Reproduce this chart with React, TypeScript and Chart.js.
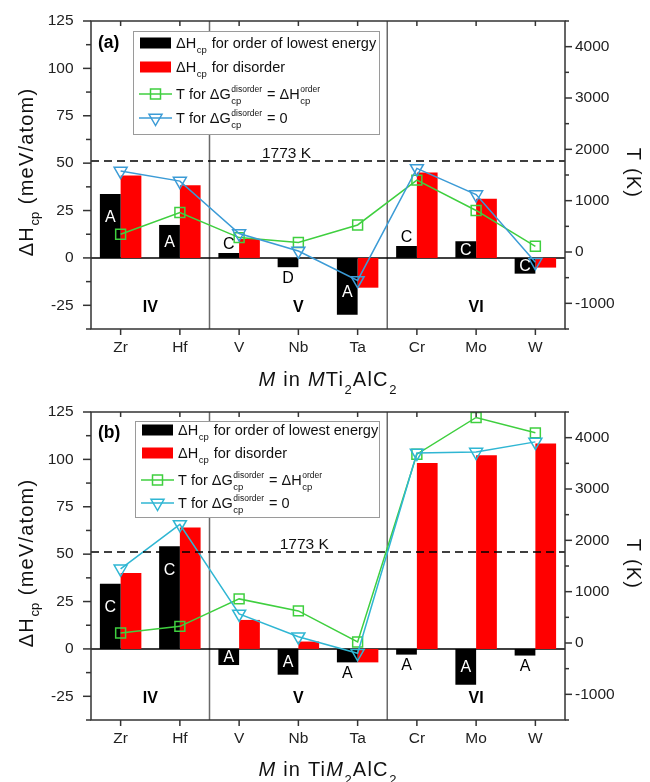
import React, { useEffect, useRef } from 'react';
import { Chart, registerables } from 'chart.js';

Chart.register(...registerables);

const FF = '"Liberation Sans", Arial, Helvetica, sans-serif';
const RED = '#ff0000';
const GREEN = '#3fcf3f';

// ---------- data ----------
const categories = ['Zr', 'Hf', 'V', 'Nb', 'Ta', 'Cr', 'Mo', 'W'];

// panel (a): M in MTi2AlC2
const orderA = [33.7, 17.4, 2.6, -4.9, -30, 6.3, 8.8, -8.3];
const disorderA = [43.5, 38.4, 10, 0, -15.7, 45.1, 31.2, -5.1];
const tEqA = [346, 770, 281, 184, 527, 1400, 809, 111];
const tZeroA = [1576, 1381, 359, 20, -553, 1629, 1120, -200];
const lettersA = ['A', 'A', 'C', 'D', 'A', 'C', 'C', 'C'];
const placeA = ['in', 'in', 'above', 'below', 'in', 'above', 'in', 'in'];

// panel (b): M in TiM2AlC2
const orderB = [34.4, 54.2, -8.5, -13.6, -7.1, -3, -18.9, -3.5];
const disorderB = [40, 64, 15.3, 3.9, -7.1, 98.1, 102.2, 108.4];
const tEqB = [195, 324, 859, 625, 20, 3678, 4394, 4094];
const tZeroB = [1445, 2310, 566, 123, -200, 3703, 3720, 3918];
const lettersB = ['C', 'C', 'A', 'A', 'A', 'A', 'A', 'A'];
const placeB = ['in', 'in', 'in', 'in', 'below', 'below', 'in', 'below'];

// axes
const yMin = -37.5;
const yMax = 125;
const yTicks = [-25, 0, 25, 50, 75, 100, 125];
const yMinor = [-37.5, -12.5, 12.5, 37.5, 62.5, 87.5, 112.5];
const tMin = -1500;
const tMax = 4500;
const tTicks = [-1000, 0, 1000, 2000, 3000, 4000];
const tMinor = [-1500, -500, 500, 1500, 2500, 3500, 4500];

const groupNames = ['IV', 'V', 'VI'];
const groupCenters = [0.5, 3, 6];
const groupValue = -26;
const separatorsAfter = [1, 4];
const meltingT = 1773;

type Part = { t: string; k?: 'sub' | 'ss'; sup?: string; it?: boolean };
interface TextCfg { size: number; sub: number; sup: number; subDy: number; supDy: number; ls: number; }

const legendRows: Part[][] = [
  [{ t: '\u0394H' }, { t: 'cp', k: 'sub' }, { t: ' for order of lowest energy' }],
  [{ t: '\u0394H' }, { t: 'cp', k: 'sub' }, { t: ' for disorder' }],
  [{ t: 'T for \u0394G' }, { t: 'cp', k: 'ss', sup: 'disorder' }, { t: ' = \u0394H' }, { t: 'cp', k: 'ss', sup: 'order' }],
  [{ t: 'T for \u0394G' }, { t: 'cp', k: 'ss', sup: 'disorder' }, { t: ' = 0' }],
];
const yTitle: Part[] = [{ t: '\u0394H' }, { t: 'cp', k: 'sub' }, { t: ' (meV/atom)' }];
const y2Title: Part[] = [{ t: 'T (K)' }];

const panelA = {
  order: orderA, disorder: disorderA, tEq: tEqA, tZero: tZeroA,
  letters: lettersA, place: placeA, tag: '(a)', blue: '#3b9bd6',
  xTitle: [{ t: 'M', it: true }, { t: ' in ' }, { t: 'M', it: true }, { t: 'Ti' }, { t: '2', k: 'sub' }, { t: 'AlC' }, { t: '2', k: 'sub' }] as Part[],
  meltPos: 2.8,
  canvasTop: 0, canvasH: 398, padTop: 21, xHeight: 69, titleBase: 386,
  legX: 133, legY: 31, legW: 246, legH: 103, legRows: [43, 67, 94, 118], tagY: 43,
};
const panelB = {
  order: orderB, disorder: disorderB, tEq: tEqB, tZero: tZeroB,
  letters: lettersB, place: placeB, tag: '(b)', blue: '#2fb6d3',
  xTitle: [{ t: 'M', it: true }, { t: ' in Ti' }, { t: 'M', it: true }, { t: '2', k: 'sub' }, { t: 'AlC' }, { t: '2', k: 'sub' }] as Part[],
  meltPos: 3.1,
  canvasTop: 398, canvasH: 384, padTop: 14, xHeight: 62, titleBase: 378,
  legX: 135, legY: 23, legW: 244, legH: 96, legRows: [32, 55, 82, 105], tagY: 35,
};

// ---------- drawing helpers ----------
function runParts(ctx: any, parts: Part[], x: number, y: number, c: TextCfg, draw: boolean) {
  let cx = x;
  for (const p of parts) {
    if (!p.k) {
      ctx.font = `${p.it ? 'italic ' : ''}${c.size}px ${FF}`;
      ctx.letterSpacing = c.ls + 'px';
      if (draw) ctx.fillText(p.t, cx, y);
      cx += ctx.measureText(p.t).width;
    } else {
      ctx.letterSpacing = '0px';
      ctx.font = `${c.sub}px ${FF}`;
      const w1 = ctx.measureText(p.t).width;
      if (draw) ctx.fillText(p.t, cx + 0.5, y + c.subDy);
      let w = w1;
      if (p.k === 'ss' && p.sup) {
        ctx.font = `${c.sup}px ${FF}`;
        const w2 = ctx.measureText(p.sup).width;
        if (draw) ctx.fillText(p.sup, cx + 0.5, y + c.supDy);
        w = Math.max(w1, w2);
      }
      cx += w + 1.5;
    }
  }
  ctx.letterSpacing = '0px';
  return cx - x;
}

function seg(ctx: any, x1: number, y1: number, x2: number, y2: number) {
  ctx.beginPath();
  ctx.moveTo(x1, y1);
  ctx.lineTo(x2, y2);
  ctx.stroke();
}

function drawLegend(ctx: any, p: any) {
  ctx.save();
  const x0 = p.legX, y0 = p.legY;
  ctx.fillStyle = '#fff';
  ctx.fillRect(x0, y0, p.legW, p.legH);
  ctx.strokeStyle = '#9a9a9a';
  ctx.lineWidth = 1;
  ctx.strokeRect(x0 + 0.5, y0 + 0.5, p.legW, p.legH);
  const sx = x0 + 7, sw = 31, tx = x0 + 43;
  const r = p.legRows;
  ctx.fillStyle = '#000';
  ctx.fillRect(sx, r[0] - 5.5, sw, 11);
  ctx.fillStyle = RED;
  ctx.fillRect(sx, r[1] - 5.5, sw, 11);
  const cx = sx + sw / 2;
  ctx.lineWidth = 1.5;
  ctx.strokeStyle = GREEN;
  seg(ctx, sx - 1, r[2], sx + sw + 1, r[2]);
  ctx.strokeRect(cx - 5, r[2] - 5, 10, 10);
  ctx.strokeStyle = p.blue;
  seg(ctx, sx - 1, r[3], sx + sw + 1, r[3]);
  const tr = 7.5;
  ctx.beginPath();
  ctx.moveTo(cx, r[3] + tr);
  ctx.lineTo(cx - tr * 0.866, r[3] - tr / 2);
  ctx.lineTo(cx + tr * 0.866, r[3] - tr / 2);
  ctx.closePath();
  ctx.stroke();
  ctx.fillStyle = '#111';
  ctx.textAlign = 'left';
  ctx.textBaseline = 'alphabetic';
  const cfg: TextCfg = { size: 14.5, sub: 9.5, sup: 8.5, subDy: 4.5, supDy: -7.5, ls: 0 };
  legendRows.forEach((row, i) => runParts(ctx, row, tx, r[i] + 5.2, cfg, true));
  ctx.restore();
}

function makePlugin(p: any) {
  return {
    id: 'deco',
    beforeDatasetsDraw(chart: any) {
      const { ctx, chartArea: a, scales } = chart;
      const x = scales.x, y = scales.y;
      ctx.save();
      ctx.strokeStyle = '#6a6a6a';
      ctx.lineWidth = 1.5;
      for (const i of separatorsAfter) {
        const sx = (x.getPixelForValue(i) + x.getPixelForValue(i + 1)) / 2;
        seg(ctx, sx, a.top, sx, a.bottom);
      }
      ctx.strokeStyle = '#000';
      const y0 = y.getPixelForValue(0);
      seg(ctx, a.left, y0, a.right, y0);
      ctx.restore();
    },
    afterDatasetsDraw(chart: any) {
      const { ctx, chartArea: a, scales } = chart;
      const x = scales.x, y = scales.y, y2 = scales.y2;
      ctx.save();
      // 1773 K dashed line
      const ym = y2.getPixelForValue(meltingT);
      ctx.strokeStyle = '#000';
      ctx.lineWidth = 1.5;
      ctx.setLineDash([8, 5]);
      seg(ctx, a.left, ym, a.right, ym);
      ctx.setLineDash([]);
      ctx.fillStyle = '#111';
      ctx.font = `15.5px ${FF}`;
      ctx.textAlign = 'center';
      ctx.textBaseline = 'alphabetic';
      ctx.fillText(`${meltingT} K`, x.getPixelForValue(p.meltPos), ym - 3);

      // letters on black bars
      const meta = chart.getDatasetMeta(2);
      ctx.font = `16px ${FF}`;
      ctx.textBaseline = 'middle';
      meta.data.forEach((el: any, i: number) => {
        const place = p.place[i];
        const top = Math.min(el.y, el.base), bot = Math.max(el.y, el.base);
        let ly: number;
        if (place === 'in') {
          const half = (bot - top) / 2;
          const off = Math.min(half, 23);
          ly = el.y < el.base ? el.y + off : el.y - off;
          ctx.fillStyle = '#fff';
        } else if (place === 'above') {
          ly = top - 9;
          ctx.fillStyle = '#000';
        } else {
          ly = bot + 10;
          ctx.fillStyle = '#000';
        }
        ctx.fillText(p.letters[i], el.x, ly + 1);
      });

      // group labels
      ctx.fillStyle = '#000';
      ctx.font = `bold 16px ${FF}`;
      groupNames.forEach((g, i) => {
        ctx.fillText(g, x.getPixelForValue(groupCenters[i]), y.getPixelForValue(groupValue));
      });

      // frame and ticks
      ctx.strokeStyle = '#333';
      ctx.lineWidth = 1.5;
      ctx.strokeRect(a.left, a.top, a.right - a.left, a.bottom - a.top);
      yTicks.forEach((v) => { const py = y.getPixelForValue(v); seg(ctx, a.left - 8, py, a.left, py); });
      yMinor.forEach((v) => { const py = y.getPixelForValue(v); seg(ctx, a.left - 5, py, a.left, py); });
      tTicks.forEach((v) => { const py = y2.getPixelForValue(v); seg(ctx, a.right, py, a.right + 7, py); });
      tMinor.forEach((v) => { const py = y2.getPixelForValue(v); seg(ctx, a.right, py, a.right + 4, py); });
      categories.forEach((_, i) => {
        const px = x.getPixelForValue(i);
        seg(ctx, px, a.bottom, px, a.bottom + 6);
        seg(ctx, px, a.top, px, a.top + 5);
      });

      // legend
      drawLegend(ctx, p);

      // panel tag
      ctx.fillStyle = '#000';
      ctx.font = `bold 17.5px ${FF}`;
      ctx.textAlign = 'left';
      ctx.textBaseline = 'middle';
      ctx.fillText(p.tag, 98, p.tagY);

      // axis titles
      ctx.fillStyle = '#111';
      ctx.textAlign = 'left';
      ctx.textBaseline = 'alphabetic';
      const tc: TextCfg = { size: 20, sub: 13, sup: 11, subDy: 6, supDy: -9, ls: 1.2 };
      // bottom
      const xc: TextCfg = { ...tc, subDy: 8 };
      const wx = runParts(ctx, p.xTitle, 0, 0, xc, false);
      runParts(ctx, p.xTitle, (a.left + a.right) / 2 - wx / 2, p.titleBase, xc, true);
      // left
      ctx.save();
      ctx.translate(33, (a.top + a.bottom) / 2 - 3);
      ctx.rotate(-Math.PI / 2);
      const wy = runParts(ctx, yTitle, 0, 0, tc, false);
      runParts(ctx, yTitle, -wy / 2, 0, tc, true);
      ctx.restore();
      // right
      ctx.save();
      ctx.translate(627, (a.top + a.bottom) / 2 - 2);
      ctx.rotate(Math.PI / 2);
      const w2 = runParts(ctx, y2Title, 0, 0, tc, false);
      runParts(ctx, y2Title, -w2 / 2, 0, tc, true);
      ctx.restore();

      ctx.restore();
    },
  };
}

function zeroPad(s: any) {
  s.paddingTop = 0;
  s.paddingBottom = 0;
  s.paddingLeft = 0;
  s.paddingRight = 0;
}

function buildConfig(p: any): any {
  const tickFont = { size: 15.5, family: FF };
  return {
    type: 'bar',
    data: {
      labels: categories,
      datasets: [
        {
          type: 'line', label: 'T eq', data: p.tEq, yAxisID: 'y2',
          borderColor: GREEN, borderWidth: 1.5, tension: 0,
          pointStyle: 'rect', pointRadius: 7, pointBorderColor: GREEN,
          pointBackgroundColor: 'rgba(0,0,0,0)', pointBorderWidth: 1.5, order: 1,
        },
        {
          type: 'line', label: 'T zero', data: p.tZero, yAxisID: 'y2',
          borderColor: p.blue, borderWidth: 1.5, tension: 0,
          pointStyle: 'triangle', pointRotation: 180, pointRadius: 7.5, pointBorderColor: p.blue,
          pointBackgroundColor: 'rgba(0,0,0,0)', pointBorderWidth: 1.5, order: 0,
        },
        {
          type: 'bar', label: 'order', data: p.order, yAxisID: 'y',
          backgroundColor: '#000', borderWidth: 0, barPercentage: 1, categoryPercentage: 0.7, order: 2,
        },
        {
          type: 'bar', label: 'disorder', data: p.disorder, yAxisID: 'y',
          backgroundColor: RED, borderWidth: 0, barPercentage: 1, categoryPercentage: 0.7, order: 2,
        },
      ],
    },
    options: {
      responsive: false,
      animation: false,
      events: [],
      layout: { padding: { top: p.padTop, left: 0, right: 0, bottom: 0 } },
      plugins: { legend: { display: false }, tooltip: { enabled: false }, title: { display: false } },
      scales: {
        x: {
          type: 'category', offset: true,
          grid: { display: false, drawTicks: false }, border: { display: false },
          ticks: { font: tickFont, color: '#222', padding: 9, maxRotation: 0, autoSkip: false },
          afterFit: (s: any) => { s.height = p.xHeight; zeroPad(s); },
        },
        y: {
          type: 'linear', position: 'left', min: yMin, max: yMax,
          afterBuildTicks: (s: any) => { s.ticks = yTicks.map((v) => ({ value: v })); },
          grid: { display: false, drawTicks: false }, border: { display: false },
          ticks: { font: tickFont, color: '#222', padding: 17.5, callback: (v: any) => String(v) },
          afterFit: (s: any) => { s.width = 91; zeroPad(s); },
        },
        y2: {
          type: 'linear', position: 'right', min: tMin, max: tMax,
          afterBuildTicks: (s: any) => { s.ticks = tTicks.map((v) => ({ value: v })); },
          grid: { display: false, drawTicks: false }, border: { display: false },
          ticks: { font: tickFont, color: '#222', padding: 10, callback: (v: any) => String(v) },
          afterFit: (s: any) => { s.width = 85; zeroPad(s); },
        },
      },
    },
    plugins: [makePlugin(p)],
  };
}

function Panel({ cfg }: { cfg: any }) {
  const ref = useRef<HTMLCanvasElement>(null);
  useEffect(() => {
    const chart = new Chart(ref.current as HTMLCanvasElement, buildConfig(cfg));
    return () => chart.destroy();
  }, [cfg]);
  return (
    <canvas
      ref={ref}
      width={650}
      height={cfg.canvasH}
      style={{ position: 'absolute', left: 0, top: cfg.canvasTop, width: 650, height: cfg.canvasH, display: 'block' }}
    />
  );
}

export default function App() {
  return (
    <div style={{ position: 'absolute', left: 0, top: 0, width: 650, height: 782, background: '#fff' }}>
      <Panel cfg={panelA} />
      <Panel cfg={panelB} />
    </div>
  );
}
